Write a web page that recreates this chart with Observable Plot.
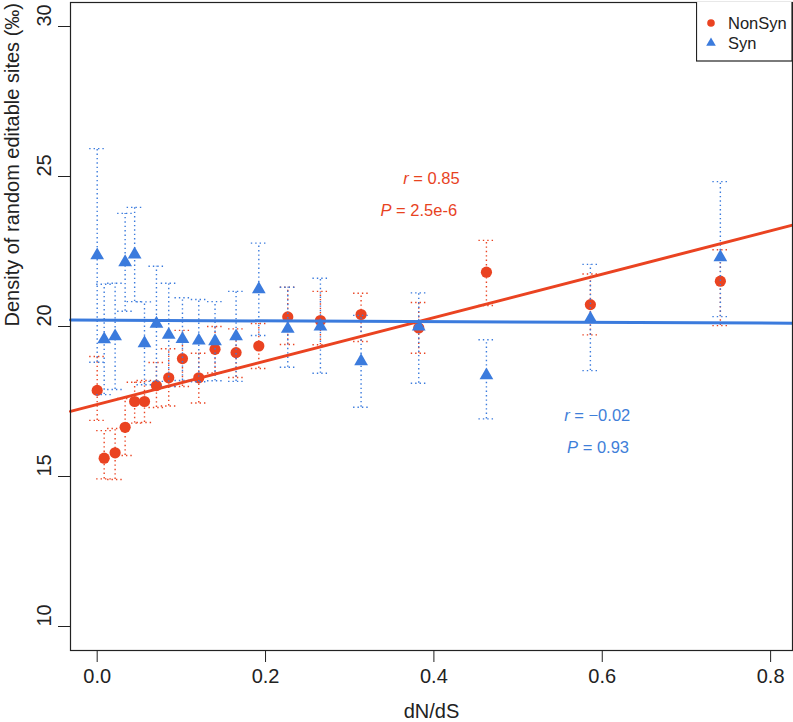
<!DOCTYPE html>
<html><head><meta charset="utf-8">
<script src="https://cdn.jsdelivr.net/npm/d3@7"></script>
<script src="https://cdn.jsdelivr.net/npm/@observablehq/plot@0.6"></script>
<style>
body{margin:0;background:#fff;font-family:"Liberation Sans",Arial,Helvetica,sans-serif;}
#wrap{position:relative;width:793px;height:722px;overflow:hidden;}
#legend{position:absolute;left:696px;top:2px;}
</style></head><body><div id="wrap"></div>
<script>
// ---- data ----
const dnds        = [0.000, 0.0083, 0.0213, 0.0332, 0.0445, 0.0562, 0.0704, 0.085, 0.1013, 0.1207, 0.140, 0.165, 0.192, 0.2264, 0.2652, 0.3135, 0.382, 0.4624, 0.5859, 0.7403];
const nonsynMean  = [17.87, 15.61, 15.79, 16.64, 17.50, 17.50, 18.03, 18.29, 18.93, 18.29, 19.24, 19.13, 19.35, 20.32, 20.20, 20.40, 19.95, 21.81, 20.73, 21.51];
const nonsynLow   = [16.87, 14.92, 14.90, 15.70, 16.78, 16.80, 17.30, 17.35, 18.00, 17.45, 18.45, 18.30, 18.60, 19.40, 19.39, 19.50, 19.11, 20.70, 19.72, 20.03];
const nonsynHigh  = [19.00, 16.53, 16.60, 17.60, 18.14, 18.20, 18.80, 19.26, 19.87, 19.11, 20.00, 19.92, 20.10, 21.31, 21.17, 21.11, 20.80, 22.87, 21.75, 22.56];
const synMean     = [22.37, 19.57, 19.67, 22.14, 22.40, 19.44, 20.09, 19.72, 19.58, 19.53, 19.51, 19.67, 21.24, 19.92, 20.00, 18.84, 20.00, 18.37, 20.26, 22.31];
const synLow      = [18.81, 17.73, 17.90, 20.51, 20.83, 18.06, 18.17, 18.00, 18.20, 18.16, 18.19, 18.17, 19.70, 18.64, 18.44, 17.31, 18.11, 16.92, 18.53, 20.33];
const synHigh     = [25.93, 21.41, 21.44, 23.77, 23.97, 20.82, 22.01, 21.44, 20.96, 20.90, 20.83, 21.17, 22.78, 21.31, 21.61, 20.37, 21.12, 19.56, 22.07, 24.83];
const seriesNames = ["NonSyn", "Syn"];
const fitIntercept = [17.40, 20.21];
const fitSlope     = [7.24, -0.12];
const annText   = ["r = 0.85", "P = 2.5e-6", "r = \u22120.02", "P = 0.93"];
const annSeries = ["NonSyn", "NonSyn", "Syn", "Syn"];
const annX      = [0.397, 0.382, 0.594, 0.595];
const annY      = [24.93, 23.87, 17.03, 15.97];
const xTicks = [0, 0.2, 0.4, 0.6, 0.8];
const yTicks = [10, 15, 20, 25, 30];
const xDomain = [-0.0317, 0.826];
const yDomain = [9.2, 30.8];

const RED = "#EA4321", BLUE = "#3B7BDD";
const colorOf = {NonSyn: RED, Syn: BLUE};
const annColor = {NonSyn: "#E8431F", Syn: "#3F7FD9"};

const nonsyn = dnds.map((x, i) => ({x, m: nonsynMean[i], lo: nonsynLow[i], hi: nonsynHigh[i]}));
const syn = dnds.map((x, i) => ({x, m: synMean[i], lo: synLow[i], hi: synHigh[i]}));
const fitLines = seriesNames.flatMap((s, i) => xDomain.map(x => ({series: s, x, y: fitIntercept[i] + fitSlope[i] * x})));
const anns = annText.map((t, i) => ({t, s: annSeries[i], x: annX[i], y: annY[i]}));

const capSymbol = {draw(ctx, size) { const r = Math.sqrt(size / Math.PI); ctx.moveTo(-r, 0); ctx.lineTo(r, 0); }};
const dotted = {strokeWidth: 1.4, strokeDasharray: "1.4,3"};

function errorMarks(data, color) {
  return [
    Plot.ruleX(data, {x: "x", y1: "lo", y2: "hi", stroke: color, ...dotted}),
    Plot.dot(data, {x: "x", y: "lo", symbol: capSymbol, r: 8, stroke: color, fill: "none", ...dotted}),
    Plot.dot(data, {x: "x", y: "hi", symbol: capSymbol, r: 8, stroke: color, fill: "none", ...dotted})
  ];
}

const chart = Plot.plot({
  width: 793, height: 722,
  marginLeft: 70, marginRight: 1, marginTop: 2, marginBottom: 72,
  x: {domain: xDomain},
  y: {domain: yDomain},
  style: {fontFamily: '"Liberation Sans", Arial, Helvetica, sans-serif', color: "#222", background: "#fff"},
  marks: [
    ...errorMarks(nonsyn, RED),
    Plot.dot(nonsyn, {x: "x", y: "m", r: 5.6, fill: RED, stroke: "none"}),
    ...errorMarks(syn, BLUE),
    Plot.dot(syn, {x: "x", y: "m", r: 5.1, symbol: "triangle", fill: BLUE, stroke: "none"}),
    Plot.line(fitLines.filter(d => d.series === "NonSyn"), {x: "x", y: "y", stroke: RED, strokeWidth: 3}),
    Plot.line(fitLines.filter(d => d.series === "Syn"), {x: "x", y: "y", stroke: BLUE, strokeWidth: 3}),
    Plot.text(anns, {x: "x", y: "y", text: "t", fill: d => annColor[d.s], fontSize: 16.5, className: "ann"}),
    Plot.frame({stroke: "#222", strokeWidth: 1.2}),
    Plot.axisX({ticks: xTicks, tickSize: 12, tickPadding: 6, tickFormat: d3.format(".1f"), fontSize: 20, label: null, stroke: "#222"}),
    Plot.axisY({ticks: yTicks, tickSize: 12, tickFormat: () => "", label: null, stroke: "#222"}),
    Plot.text(yTicks, {y: d => d, text: d => String(d), frameAnchor: "left", dx: -26, rotate: -90, fontSize: 20, fill: "#222"}),
    Plot.text(["dN/dS"], {frameAnchor: "bottom", dy: 67, fontSize: 20, fill: "#222"}),
    Plot.text(["Density of random editable sites (\u2030)"], {frameAnchor: "left", dx: -58, rotate: -90, fontSize: 20, fill: "#222"})
  ]
});

// italic r / P in annotations
chart.querySelectorAll(".ann text").forEach(t => {
  const s = t.textContent;
  t.textContent = "";
  const it = document.createElementNS("http://www.w3.org/2000/svg", "tspan");
  it.setAttribute("font-style", "italic");
  it.textContent = s[0];
  t.appendChild(it);
  t.appendChild(document.createTextNode(s.slice(1)));
});

const wrap = document.getElementById("wrap");
wrap.appendChild(chart);

// legend
const lg = d3.select(wrap).append("svg").attr("id", "legend").attr("width", 97).attr("height", 60);
lg.append("rect").attr("x", 0.5).attr("y", -1).attr("width", 95.5).attr("height", 60).attr("fill", "#fff").attr("stroke", "#222").attr("stroke-width", 1.2);
seriesNames.forEach((s, i) => {
  const cy = 21 + i * 20;
  if (s === "NonSyn") lg.append("circle").attr("cx", 15).attr("cy", cy).attr("r", 3.8).attr("fill", colorOf[s]);
  else lg.append("path").attr("d", d3.symbol(d3.symbolTriangle, 40)()).attr("transform", `translate(15,${cy})`).attr("fill", colorOf[s]);
  lg.append("text").attr("x", 32).attr("y", cy).attr("dy", "0.36em").attr("font-size", 16.5).attr("fill", "#222")
    .attr("font-family", '"Liberation Sans", Arial, sans-serif').text(s);
});
</script></body></html>
